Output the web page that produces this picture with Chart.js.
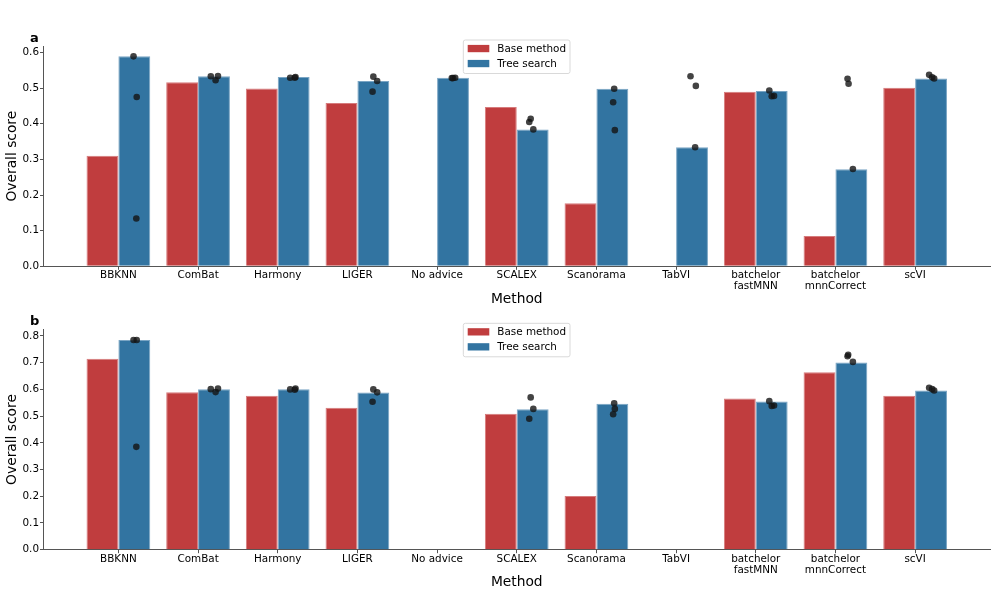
<!DOCTYPE html>
<html><head><meta charset="utf-8">
<script src="https://cdn.jsdelivr.net/npm/chart.js@4"></script>
<style>
html,body{margin:0;padding:0;background:#fff;}
#wrap{position:relative;width:997px;height:598px;overflow:hidden;}
.panel{position:absolute;left:0;width:997px;}
canvas{display:block;}
</style></head><body>
<div id="wrap">
<div class="panel" style="top:0;height:312px"><canvas id="ca" width="997" height="312"></canvas></div>
<div class="panel" style="top:300px;height:298px"><canvas id="cb" width="997" height="298"></canvas></div>
</div>
<script>
const categories = ['BBKNN','ComBat','Harmony','LIGER','No advice','SCALEX','Scanorama','TabVI','batchelor\nfastMNN','batchelor\nmnnCorrect','scVI'];
const seriesNames = ['Base method','Tree search'];

// Panel a
const baseA = [0.310,0.516,0.499,0.458,null,0.447,0.177,null,0.490,0.085,0.501];
const treeA = [0.589,0.533,0.531,0.520,0.529,0.384,0.498,0.334,0.492,0.272,0.527];
const runsA = [[0.589,0.475,0.134],[0.533,0.534,0.522],[0.529,0.531,0.529],[0.532,0.520,0.490],[0.528,0.529,0.528],
               [0.414,0.405,0.384],[0.498,0.460,0.382],[0.533,0.506,0.334],[0.493,0.477,0.478],[0.526,0.512,0.273],[0.537,0.530,0.527]];
const jitterA = [[-0.01,0.03,0.025],[-0.04,0.05,0.02],[-0.044,0.023,0.014],[0,0.048,-0.01],[-0.015,0.027,0],
                 [-0.025,-0.043,0.008],[0.023,0.01,0.031],[-0.019,0.048,0.039],[-0.03,0,0.029],[-0.048,-0.035,0.019],[-0.024,0.014,0.039]];
const yTicksA = [0,0.1,0.2,0.3,0.4,0.5,0.6];

// Panel b
const baseB = [0.715,0.589,0.576,0.531,null,0.509,0.201,null,0.566,0.664,0.576];
const treeB = [0.785,0.601,0.601,0.588,null,0.526,0.546,null,0.555,0.701,0.596];
const runsB = [[0.785,0.785,0.385],[0.601,0.603,0.590],[0.600,0.603,0.599],[0.600,0.589,0.554],[],
               [0.570,0.527,0.490],[0.548,0.527,0.507],[],[0.556,0.540,0.538],[0.730,0.724,0.703],[0.606,0.601,0.596]];
const jitterB = [[-0.01,0.03,0.025],[-0.04,0.05,0.02],[-0.044,0.023,0.014],[0,0.048,-0.01],[],
                 [-0.025,0.008,-0.043],[0.023,0.031,0.01],[],[-0.03,0.029,0],[-0.04,-0.048,0.019],[-0.024,0.014,0.039]];
const yTicksB = [0,0.1,0.2,0.3,0.4,0.5,0.6,0.7,0.8];

const RED = '#c03d3e', BLUE = '#3274a1';
const RED_EDGE = '#d67b7c', BLUE_EDGE = '#7aa5c4';
const FONT = 'DejaVu Sans';
Chart.defaults.font.family = FONT;
Chart.defaults.color = '#000';

const overlay = {
  id: 'overlay',
  afterDraw(chart, args, opts) {
    const ctx = chart.ctx, ca = chart.chartArea;
    ctx.save();
    ctx.fillStyle = '#000';
    ctx.font = 'bold 13px ' + FONT;
    ctx.textBaseline = 'alphabetic';
    ctx.textAlign = 'left';
    ctx.fillText(opts.label, 30, ca.top - 4);
    const bx = 463.3, by = ca.top - 6, bw = 106.7, bh = 33.5;
    ctx.beginPath();
    if (ctx.roundRect) ctx.roundRect(bx, by, bw, bh, 2); else ctx.rect(bx, by, bw, bh);
    ctx.fillStyle = 'rgba(255,255,255,0.8)';
    ctx.fill();
    ctx.strokeStyle = '#d9d9d9';
    ctx.lineWidth = 1;
    ctx.stroke();
    ctx.font = '10.4px ' + FONT;
    ctx.textBaseline = 'middle';
    const cols = [RED, BLUE];
    seriesNames.forEach((n, i) => {
      const cy = by + 8.5 + i * 15;
      ctx.fillStyle = cols[i];
      ctx.fillRect(467.7, cy - 3.6, 21.6, 7.3);
      ctx.fillStyle = '#000';
      ctx.fillText(n, 497.3, cy + 0.5);
    });
    ctx.restore();
  }
};

function makeChart(id, base, tree, runs, jitter, yTicks, yMax, g) {
  const pts = [];
  runs.forEach((r, i) => r.forEach((v, k) => pts.push({x: i + 0.2 + jitter[i][k], y: v})));
  const axisColor = '#555';
  return new Chart(document.getElementById(id), {
    type: 'bar',
    data: {
      datasets: [
        {type: 'scatter', label: 'runs', data: pts, order: 0,
         backgroundColor: 'rgba(20,20,20,0.8)', borderWidth: 0, pointRadius: 3.3, pointHoverRadius: 3.3},
        {label: seriesNames[0], data: base.map((v, i) => ({x: i, y: v})), order: 1,
         backgroundColor: RED, borderColor: RED_EDGE, borderWidth: 1,
         categoryPercentage: 0.8, barPercentage: 1.0},
        {label: seriesNames[1], data: tree.map((v, i) => ({x: i, y: v})), order: 1,
         backgroundColor: BLUE, borderColor: BLUE_EDGE, borderWidth: 1,
         categoryPercentage: 0.8, barPercentage: 1.0}
      ]
    },
    options: {
      responsive: false,
      animation: false,
      devicePixelRatio: 1,
      layout: {padding: {top: g.padTop, left: 0, right: 7, bottom: 0}},
      plugins: {legend: {display: false}, tooltip: {enabled: false}, overlay: {label: g.label}},
      scales: {
        x: {
          type: 'linear', min: -0.94, max: 10.94, offset: false,
          afterBuildTicks: s => { s.ticks = categories.map((c, i) => ({value: i})); },
          afterFit: s => { s.height = g.xAxisH; },
          ticks: {
            autoSkip: false, maxRotation: 0, padding: 0,
            font: {size: 10.4, lineHeight: 1.08}, color: '#000',
            callback: v => categories[v] !== undefined ? categories[v].split('\n') : ''
          },
          grid: {display: true, offset: false, drawOnChartArea: false, drawTicks: true, tickLength: 3.5, color: axisColor},
          border: {display: true, color: axisColor, width: 1},
          title: {display: true, text: 'Method', font: {size: 13.8}, color: '#000', padding: {top: 0, bottom: g.titlePad}}
        },
        y: {
          min: 0, max: yMax,
          afterBuildTicks: s => { s.ticks = yTicks.map(v => ({value: v})); },
          afterFit: s => { s.width = 43.5; },
          ticks: {padding: 1, font: {size: 10.4}, color: '#000', callback: v => Number(v).toFixed(1)},
          grid: {display: true, offset: false, drawOnChartArea: false, drawTicks: true, tickLength: 3.5, color: axisColor},
          border: {display: true, color: axisColor, width: 1},
          title: {display: true, text: 'Overall score', font: {size: 13.8}, color: '#000', padding: {top: 4.2, bottom: 0}}
        }
      }
    },
    plugins: [overlay]
  });
}

makeChart('ca', baseA, treeA, runsA, jitterA, yTicksA, 0.618, {padTop: 46, xAxisH: 312 - 266.3, titlePad: 4, label: 'a'});
makeChart('cb', baseB, treeB, runsB, jitterB, yTicksB, 0.825, {padTop: 29.3, xAxisH: 298 - 249.7, titlePad: 7, label: 'b'});
</script>
</body></html>
